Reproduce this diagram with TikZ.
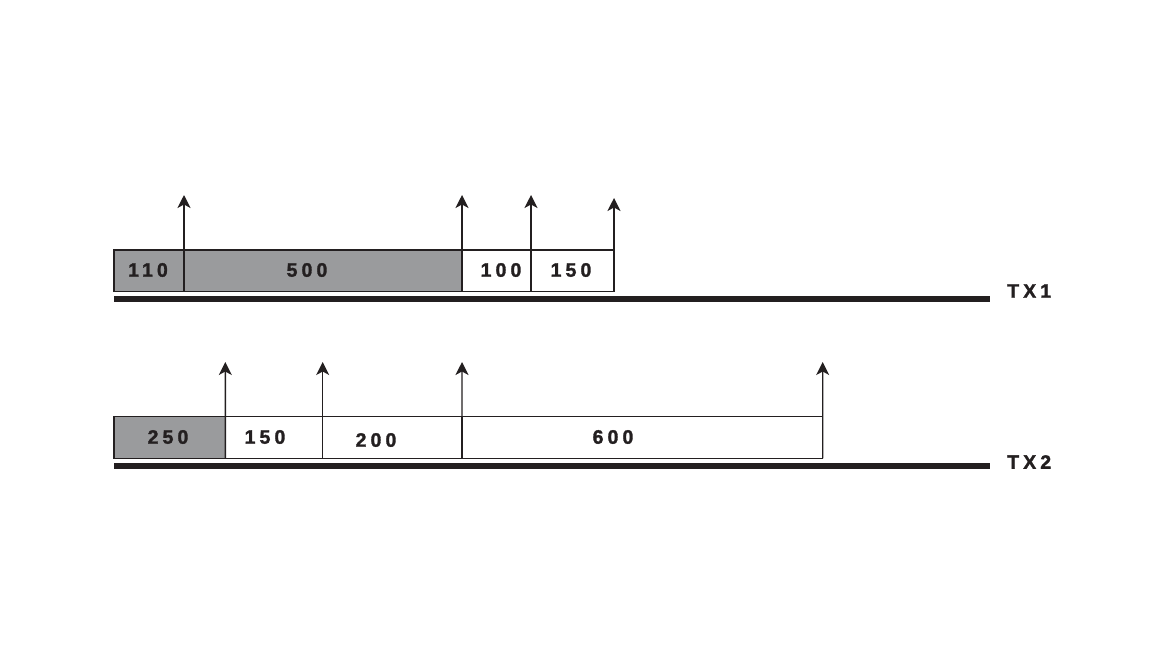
\documentclass[tikz,border=0pt]{standalone}
\usepackage{fontspec}
\newfontfamily\labfont[LetterSpace=21, FakeBold=1.5]{Liberation Sans}
\usetikzlibrary{arrows.meta}
\definecolor{ink}{HTML}{231F20}
\definecolor{shade}{HTML}{9A9B9D}
\begin{document}
\begin{tikzpicture}[x=1pt,y=-1pt,
  seg/.style={draw=ink, line width=1.4pt, minimum height=41.7pt, inner sep=0pt, outer sep=0pt, anchor=north west},
  dark/.style={seg, fill=shade},
  lab/.style={font=\labfont\bfseries\fontsize{19.5}{22}\selectfont, text=ink, inner sep=0pt},
  arr/.style={draw=ink, line width=1.4pt, -{Stealth[length=13pt,width=13pt,inset=3.5pt]}},
  base/.style={draw=ink, line width=6pt}
]
\useasboundingbox (0,0) rectangle (1170,670);
% TX1 row
\node[dark, minimum width=70pt]  (a1) at (114,250) {};
\node[dark, minimum width=278pt] (a2) at (184,250) {};
\node[seg,  minimum width=69pt]  (a3) at (462,250) {};
\node[seg,  minimum width=83pt]  (a4) at (531,250) {};
\node[lab] (la1) at (148,270) {110};
\node[lab] (la2) at (307,270) {500};
\node[lab] (la3) at (501,270) {100};
\node[lab] (la4) at (571,270) {150};
\coordinate (ta1) at (184,195);
\coordinate (ta2) at (462,195);
\coordinate (ta3) at (531,195);
\coordinate (ta4) at (614,198);
\draw[arr] (a1.south east) -- (ta1);
\draw[arr] (a2.south east) -- (ta2);
\draw[arr] (a3.south east) -- (ta3);
\draw[arr] (a4.south east) -- (ta4);
\coordinate (s1) at (114,298.7);
\coordinate (e1) at (990,298.7);
\draw[base] (s1) -- (e1);
\node[lab, anchor=west] (tx1) at (1007,291) {TX1};
% TX2 row
\node[dark, minimum width=111.3pt] (b1) at (114,416.7) {};
\node[seg,  minimum width=97.4pt]  (b2) at (225.3,416.7) {};
\node[seg,  minimum width=139.3pt] (b3) at (322.7,416.7) {};
\node[seg,  minimum width=360.7pt] (b4) at (462,416.7) {};
\node[lab] (lb1) at (168,437) {250};
\node[lab] (lb2) at (265,437) {150};
\node[lab] (lb3) at (376,440) {200};
\node[lab] (lb4) at (613,437) {600};
\coordinate (tb1) at (225.3,362);
\coordinate (tb2) at (322.7,362);
\coordinate (tb3) at (462,362);
\coordinate (tb4) at (822.7,362);
\draw[arr] (b1.south east) -- (tb1);
\draw[arr] (b2.south east) -- (tb2);
\draw[arr] (b3.south east) -- (tb3);
\draw[arr] (b4.south east) -- (tb4);
\coordinate (s2) at (114,465.7);
\coordinate (e2) at (990,465.7);
\draw[base] (s2) -- (e2);
\node[lab, anchor=west] (tx2) at (1007,462) {TX2};
\end{tikzpicture}
\end{document}
